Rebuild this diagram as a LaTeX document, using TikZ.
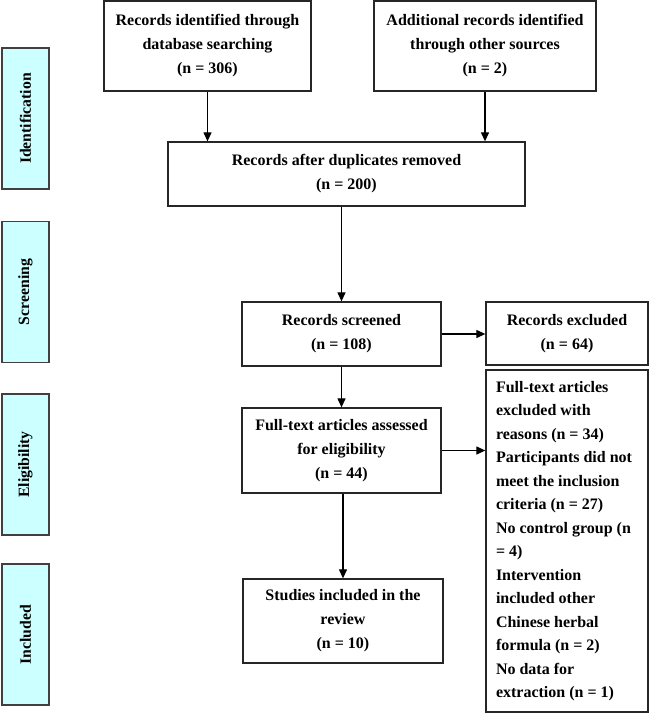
\documentclass[tikz,border=0pt]{standalone}
\usepackage{fontspec}
\setmainfont{Liberation Serif}
\usetikzlibrary{arrows.meta}
\definecolor{sidefill}{RGB}{204,255,255}
\begin{document}
\begin{tikzpicture}[x=1pt,y=-1pt,
  box/.style={draw=black!85, line width=1.3pt, inner sep=0pt, align=center,
    font=\bfseries\fontsize{16}{24}\selectfont},
  side/.style={draw=black!75, line width=1.3pt, fill=sidefill, inner sep=0pt,
    minimum width=47pt, minimum height=141pt,
    font=\bfseries\fontsize{15.7}{18}\selectfont},
  arr/.style={line width=1.2pt, -{Triangle[length=9pt,width=8pt]}}]
\useasboundingbox (0,0) rectangle (650,715);
% side labels
\node[side] (s1) at (25.5,118.5) {\rotatebox{90}{Identification}};
\node[side] (s2) at (25.5,292) {\rotatebox{90}{Screening}};
\node[side] (s3) at (25.5,464.5) {\rotatebox{90}{Eligibility}};
\node[side] (s4) at (25.5,634.5) {\rotatebox{90}{Included}};
% boxes
\node[box, minimum width=207pt, minimum height=90pt] (b1) at (207.5,46)
  {Records identified through\\database searching\\(n = 306)};
\node[box, minimum width=222pt, minimum height=90pt] (b2) at (485,46)
  {Additional records identified\\through other sources\\(n = 2)};
\node[box, minimum width=357pt, minimum height=64pt] (dup) at (346.5,174)
  {Records after duplicates removed\\(n = 200)};
\node[box, minimum width=199pt, minimum height=64pt] (scr) at (341.5,334)
  {Records screened\\(n = 108)};
\node[box, minimum width=162pt, minimum height=63pt] (exc) at (567,333.5)
  {Records excluded\\(n = 64)};
\node[box, minimum width=199pt, minimum height=85pt] (eli) at (341.5,450.5)
  {Full-text articles assessed\\for eligibility\\(n = 44)};
\node[box, minimum width=200pt, minimum height=84pt] (inc) at (343,621)
  {Studies included in the\\review\\(n = 10)};
\node[box, minimum width=162pt, minimum height=342pt, align=left] (ftx) at (567,541)
  {\parbox[c]{142pt}{\raggedright\bfseries\fontsize{16}{23.5}\selectfont
  Full-text articles\\excluded with\\reasons (n = 34)\\Participants did not\\meet the inclusion\\criteria (n = 27)\\No control group (n\\= 4)\\Intervention\\included other\\Chinese herbal\\formula (n = 2)\\No data for\\extraction (n = 1)}};
% arrows
\draw[arr] (b1.south) -- (b1.south |- dup.north);
\draw[arr] (b2.south) -- (b2.south |- dup.north);
\draw[arr] (scr.north |- dup.south) -- (scr.north);
\draw[arr] (scr.east) -- (exc.west |- scr.east);
\draw[arr] (scr.south) -- (eli.north);
\draw[arr] (eli.east) -- (ftx.west |- eli.east);
\draw[arr] (inc.north |- eli.south) -- (inc.north);
\end{tikzpicture}
\end{document}
